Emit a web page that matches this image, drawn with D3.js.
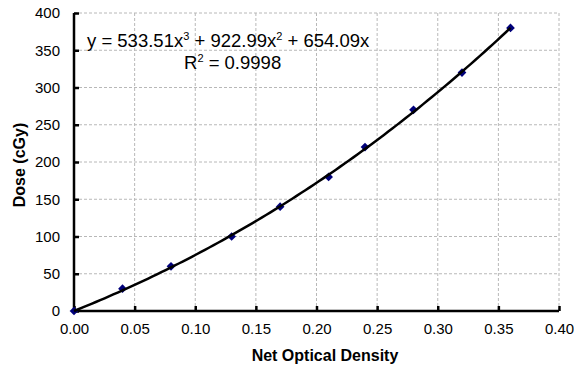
<!DOCTYPE html>
<html>
<head>
<meta charset="utf-8">
<script src="https://cdn.jsdelivr.net/npm/d3@7"></script>
<style>
  body { margin: 0; background: #fff; }
  text { font-family: "Liberation Sans", Arial, sans-serif; }
</style>
</head>
<body>
<svg id="chart" width="574" height="368"></svg>
<script>
// measured points
var netOD = [0.00, 0.04, 0.08, 0.13, 0.17, 0.21, 0.24, 0.28, 0.32, 0.36];
var dose  = [0, 30, 60, 100, 140, 180, 220, 270, 320, 380];

// poly trendline, y = c3 x^3 + c2 x^2 + c1 x
var fitCoef = [654.09, 922.99, 533.51]; // c1, c2, c3
var fitRange = [0, 0.36];

var xTicks = [0, 0.05, 0.1, 0.15, 0.2, 0.25, 0.3, 0.35, 0.4];
var yTicks = [0, 50, 100, 150, 200, 250, 300, 350, 400];

var LEFT = 74, RIGHT = 559, TOP = 13, BOTTOM = 311;

var svg = d3.select("#chart");

var x = d3.scaleLinear().domain([0, 0.4]).range([LEFT, RIGHT]);
var y = d3.scaleLinear().domain([0, 400]).range([BOTTOM, TOP]);

// grid
var grid = svg.append("g");
grid.selectAll("line.gx")
    .data(xTicks.slice(1))
    .enter().append("line")
    .attr("x1", function(d) { return x(d); })
    .attr("x2", function(d) { return x(d); })
    .attr("y1", TOP)
    .attr("y2", BOTTOM)
    .attr("stroke", "#b8b8b8")
    .attr("stroke-width", 1)
    .attr("stroke-dasharray", "3,2");
grid.selectAll("line.gy")
    .data(yTicks.slice(1))
    .enter().append("line")
    .attr("x1", LEFT)
    .attr("x2", RIGHT)
    .attr("y1", function(d) { return y(d); })
    .attr("y2", function(d) { return y(d); })
    .attr("stroke", "#b8b8b8")
    .attr("stroke-width", 1)
    .attr("stroke-dasharray", "3,2");

// axes (ticks point inward like excel)
var xAxis = d3.axisBottom(x).tickValues(xTicks).tickSize(-5).tickPadding(12)
    .tickFormat(d3.format(".2f"));
var yAxis = d3.axisLeft(y).tickValues(yTicks).tickSize(-5).tickPadding(14)
    .tickFormat(d3.format("d"));

var gx = svg.append("g").attr("transform", "translate(0," + BOTTOM + ")").call(xAxis);
var gy = svg.append("g").attr("transform", "translate(" + LEFT + ",0)").call(yAxis);

[gx, gy].forEach(function(g) {
    g.select(".domain").attr("stroke", "#000").attr("stroke-width", 2.5);
    g.selectAll(".tick line").attr("stroke", "#000").attr("stroke-width", 2.5);
    g.selectAll(".tick text")
        .attr("fill", "#000")
        .style("font-size", "15px")
        .style("font-family", "'Liberation Sans', Arial, sans-serif");
});
gx.select(".domain").attr("d", "M" + LEFT + ",0H" + RIGHT);
gy.select(".domain").attr("d", "M0," + BOTTOM + "V" + TOP);

// markers - square turned 45deg, excel style diamond
var pts = netOD.map(function(d, i) { return [d, dose[i]]; });
svg.append("g").selectAll("path")
    .data(pts)
    .enter().append("path")
    .attr("transform", function(d) {
        return "translate(" + x(d[0]) + "," + y(d[1]) + ") rotate(45)";
    })
    .attr("d", d3.symbol().type(d3.symbolSquare).size(38))
    .attr("fill", "#00007a");

// trendline drawn over markers
var fx = d3.range(0, 101).map(function(i) {
    return fitRange[0] + (fitRange[1] - fitRange[0]) * i / 100;
});
var fitLine = d3.line()
    .x(function(d) { return x(d); })
    .y(function(d) { return y(fitCoef[0] * d + fitCoef[1] * d * d + fitCoef[2] * d * d * d); });
svg.append("path")
    .datum(fx)
    .attr("d", fitLine)
    .attr("fill", "none")
    .attr("stroke", "#000")
    .attr("stroke-width", 2.5);

// equation label
var eq = svg.append("text")
    .attr("x", 87)
    .attr("y", 47)
    .style("font-size", "18.5px")
    .attr("fill", "#000");
eq.append("tspan").text("y = " + fitCoef[2] + "x");
eq.append("tspan").attr("dy", -7).style("font-size", "11px").text("3");
eq.append("tspan").attr("dy", 7).text(" + " + fitCoef[1] + "x");
eq.append("tspan").attr("dy", -7).style("font-size", "11px").text("2");
eq.append("tspan").attr("dy", 7).text(" + " + fitCoef[0] + "x");

var r2 = svg.append("text")
    .attr("x", 184)
    .attr("y", 68.5)
    .style("font-size", "18.5px")
    .attr("fill", "#000");
r2.append("tspan").text("R");
r2.append("tspan").attr("dy", -7).style("font-size", "11px").text("2");
r2.append("tspan").attr("dy", 7).text(" = 0.9998");

// axis titles
svg.append("text")
    .attr("x", 325)
    .attr("y", 361)
    .attr("text-anchor", "middle")
    .style("font-size", "16px")
    .style("font-weight", "bold")
    .text("Net Optical Density");

svg.append("text")
    .attr("transform", "translate(25,165) rotate(-90)")
    .attr("text-anchor", "middle")
    .style("font-size", "16px")
    .style("font-weight", "bold")
    .text("Dose (cGy)");
</script>
</body>
</html>
